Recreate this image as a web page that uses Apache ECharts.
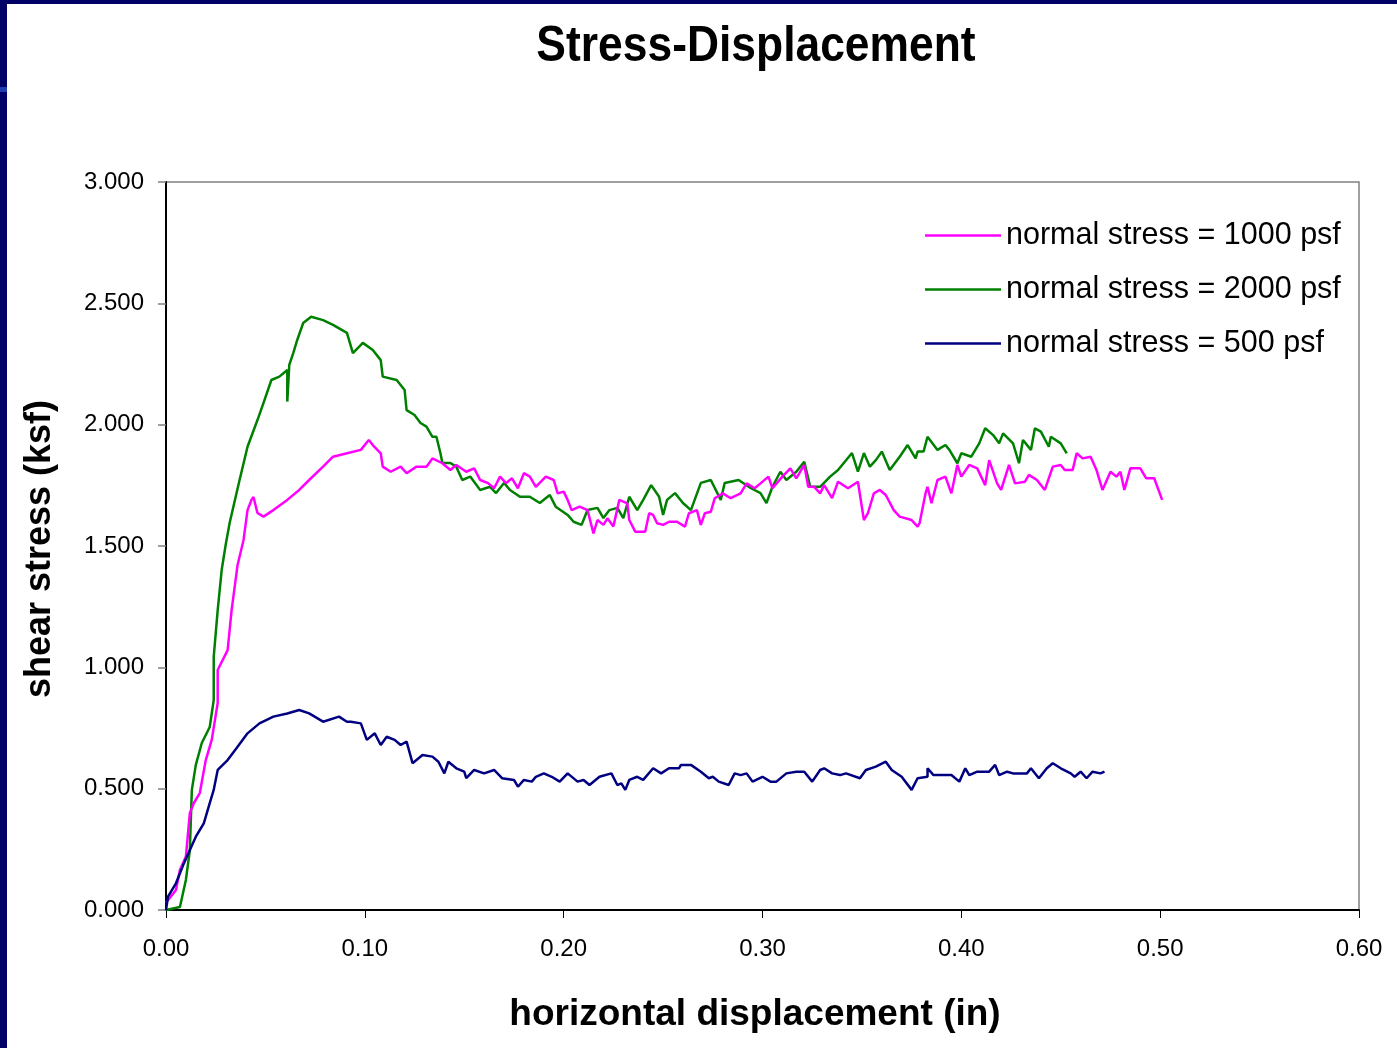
<!DOCTYPE html>
<html>
<head>
<meta charset="utf-8">
<script src="https://cdn.jsdelivr.net/npm/echarts@6/dist/echarts.min.js"></script>
<style>
html,body{margin:0;padding:0;background:#fff;}
#c{width:1397px;height:1048px;}
</style>
</head>
<body>
<div id="c"></div>
<script>
// ---- data (horizontal displacement in, shear stress ksf) ----
var seriesNames = ['normal stress = 1000 psf', 'normal stress = 2000 psf', 'normal stress = 500 psf'];
var xTicks = [0, 0.1, 0.2, 0.3, 0.4, 0.5, 0.6];
var yTicks = [0, 0.5, 1.0, 1.5, 2.0, 2.5, 3.0];

var stress1000 = [
[0,0.030],[0.005,0.082],[0.007,0.165],[0.010,0.220],[0.012,0.400],[0.014,0.441],[0.017,0.482],[0.020,0.618],
[0.023,0.701],[0.026,0.853],[0.026,0.989],[0.031,1.071],[0.033,1.236],[0.036,1.422],[0.039,1.525],[0.041,1.648],
[0.043,1.690],[0.044,1.702],[0.046,1.636],[0.049,1.621],[0.054,1.648],[0.061,1.690],[0.067,1.731],[0.072,1.772],
[0.079,1.827],[0.084,1.868],[0.091,1.882],[0.098,1.896],[0.102,1.937],[0.104,1.916],[0.108,1.882],[0.109,1.827],
[0.113,1.806],[0.118,1.827],[0.121,1.800],[0.126,1.827],[0.131,1.827],[0.134,1.861],[0.139,1.841],[0.143,1.813],
[0.146,1.834],[0.151,1.806],[0.155,1.820],[0.158,1.772],[0.162,1.759],[0.165,1.738],[0.168,1.786],[0.171,1.759],
[0.174,1.779],[0.177,1.738],[0.180,1.800],[0.183,1.786],[0.186,1.744],[0.191,1.786],[0.195,1.772],[0.197,1.717],
[0.200,1.724],[0.202,1.690],[0.204,1.648],[0.208,1.662],[0.212,1.648],[0.215,1.552],[0.217,1.607],[0.220,1.587],
[0.222,1.614],[0.225,1.580],[0.228,1.690],[0.232,1.676],[0.233,1.607],[0.236,1.559],[0.241,1.559],[0.243,1.635],
[0.245,1.628],[0.247,1.594],[0.250,1.587],[0.253,1.600],[0.257,1.600],[0.261,1.580],[0.263,1.635],[0.267,1.648],
[0.269,1.587],[0.271,1.635],[0.274,1.641],[0.276,1.697],[0.280,1.717],[0.284,1.697],[0.289,1.717],[0.292,1.758],
[0.296,1.738],[0.299,1.758],[0.303,1.786],[0.305,1.738],[0.310,1.786],[0.314,1.820],[0.317,1.779],[0.321,1.834],
[0.323,1.744],[0.326,1.744],[0.329,1.717],[0.331,1.751],[0.335,1.697],[0.338,1.765],[0.343,1.738],[0.348,1.765],
[0.351,1.607],[0.353,1.635],[0.356,1.717],[0.359,1.731],[0.362,1.710],[0.366,1.648],[0.369,1.621],[0.375,1.607],
[0.378,1.580],[0.379,1.594],[0.382,1.717],[0.383,1.744],[0.385,1.676],[0.388,1.772],[0.392,1.786],[0.395,1.717],
[0.398,1.834],[0.400,1.786],[0.404,1.834],[0.408,1.820],[0.412,1.751],[0.414,1.854],[0.418,1.758],[0.420,1.731],
[0.424,1.834],[0.427,1.758],[0.432,1.765],[0.434,1.793],[0.438,1.772],[0.442,1.731],[0.446,1.827],[0.450,1.834],
[0.452,1.813],[0.456,1.813],[0.458,1.882],[0.461,1.861],[0.465,1.868],[0.468,1.813],[0.471,1.731],[0.475,1.806],
[0.478,1.786],[0.480,1.806],[0.482,1.731],[0.485,1.820],[0.490,1.820],[0.493,1.779],[0.497,1.779],[0.501,1.690]
];

var stress2000 = [
[0,0],[0.007,0.012],[0.010,0.124],[0.012,0.247],[0.013,0.495],[0.015,0.598],[0.018,0.688],[0.022,0.754],
[0.024,0.865],[0.024,1.043],[0.026,1.236],[0.028,1.401],[0.030,1.504],[0.032,1.595],[0.037,1.772],[0.041,1.909],
[0.046,2.019],[0.049,2.089],[0.053,2.184],[0.057,2.198],[0.061,2.225],[0.061,2.095],[0.062,2.246],[0.064,2.295],
[0.066,2.349],[0.069,2.419],[0.073,2.445],[0.079,2.431],[0.084,2.411],[0.091,2.378],[0.094,2.295],[0.099,2.337],
[0.104,2.308],[0.108,2.266],[0.109,2.198],[0.116,2.184],[0.120,2.143],[0.121,2.060],[0.125,2.040],[0.128,2.007],
[0.131,1.992],[0.134,1.950],[0.136,1.950],[0.138,1.883],[0.139,1.842],[0.143,1.842],[0.146,1.827],[0.149,1.772],
[0.153,1.786],[0.158,1.731],[0.163,1.744],[0.166,1.718],[0.170,1.760],[0.173,1.731],[0.178,1.703],[0.183,1.703],
[0.188,1.677],[0.193,1.710],[0.196,1.662],[0.202,1.628],[0.205,1.600],[0.209,1.587],[0.212,1.648],[0.217,1.657],
[0.220,1.615],[0.223,1.648],[0.227,1.657],[0.230,1.615],[0.233,1.703],[0.237,1.648],[0.240,1.690],[0.244,1.751],
[0.248,1.703],[0.250,1.628],[0.252,1.690],[0.256,1.718],[0.260,1.677],[0.264,1.648],[0.269,1.760],[0.274,1.772],
[0.279,1.690],[0.281,1.760],[0.288,1.772],[0.294,1.739],[0.299,1.718],[0.302,1.677],[0.305,1.744],[0.309,1.806],
[0.312,1.772],[0.317,1.806],[0.321,1.847],[0.324,1.744],[0.329,1.744],[0.334,1.786],[0.338,1.813],[0.345,1.883],
[0.348,1.806],[0.351,1.883],[0.354,1.827],[0.357,1.854],[0.360,1.889],[0.364,1.813],[0.369,1.868],[0.373,1.916],
[0.377,1.861],[0.378,1.889],[0.381,1.889],[0.383,1.950],[0.388,1.896],[0.392,1.916],[0.394,1.896],[0.398,1.841],
[0.400,1.882],[0.405,1.868],[0.409,1.923],[0.412,1.985],[0.416,1.957],[0.419,1.923],[0.421,1.964],[0.426,1.923],
[0.429,1.841],[0.431,1.937],[0.435,1.896],[0.437,1.985],[0.440,1.971],[0.444,1.909],[0.445,1.950],[0.450,1.923],
[0.453,1.882]
];

var stress500 = [
[0,0],[0.001,0.055],[0.005,0.110],[0.009,0.192],[0.012,0.247],[0.015,0.302],[0.019,0.357],[0.022,0.440],
[0.024,0.495],[0.026,0.577],[0.031,0.618],[0.036,0.673],[0.041,0.728],[0.047,0.769],[0.054,0.797],[0.061,0.810],
[0.067,0.824],[0.072,0.810],[0.079,0.776],[0.087,0.797],[0.091,0.776],[0.093,0.776],[0.098,0.769],[0.101,0.701],
[0.105,0.728],[0.108,0.680],[0.111,0.714],[0.115,0.701],[0.118,0.680],[0.121,0.694],[0.124,0.605],[0.129,0.639],
[0.134,0.632],[0.137,0.611],[0.140,0.563],[0.142,0.611],[0.146,0.584],[0.150,0.570],[0.151,0.543],[0.155,0.577],
[0.160,0.563],[0.165,0.577],[0.169,0.543],[0.175,0.536],[0.177,0.508],[0.180,0.536],[0.184,0.529],[0.186,0.549],
[0.190,0.563],[0.194,0.549],[0.198,0.529],[0.202,0.563],[0.207,0.529],[0.210,0.536],[0.213,0.515],[0.218,0.549],
[0.224,0.563],[0.227,0.515],[0.229,0.522],[0.231,0.495],[0.233,0.536],[0.237,0.549],[0.240,0.536],[0.245,0.584],
[0.249,0.563],[0.253,0.584],[0.258,0.584],[0.259,0.598],[0.264,0.598],[0.269,0.570],[0.273,0.543],[0.275,0.549],
[0.278,0.529],[0.283,0.515],[0.286,0.563],[0.289,0.556],[0.292,0.563],[0.295,0.529],[0.300,0.549],[0.304,0.529],
[0.307,0.529],[0.312,0.563],[0.317,0.570],[0.321,0.570],[0.325,0.529],[0.329,0.577],[0.331,0.584],[0.335,0.563],
[0.339,0.556],[0.342,0.563],[0.349,0.543],[0.352,0.577],[0.357,0.591],[0.362,0.611],[0.365,0.577],[0.370,0.549],
[0.375,0.495],[0.378,0.543],[0.383,0.549],[0.383,0.584],[0.386,0.556],[0.395,0.556],[0.399,0.529],[0.402,0.584],
[0.404,0.556],[0.408,0.570],[0.414,0.570],[0.417,0.598],[0.419,0.556],[0.423,0.570],[0.426,0.563],[0.433,0.563],
[0.435,0.584],[0.439,0.543],[0.443,0.584],[0.446,0.605],[0.450,0.584],[0.455,0.563],[0.457,0.549],[0.460,0.570],
[0.463,0.543],[0.466,0.570],[0.470,0.563],[0.472,0.570]
];

var colors = ['#FF00FF', '#008000', '#000080'];
var FONT = '"Liberation Sans", Arial, sans-serif';

var chart = echarts.init(document.getElementById('c'), null, {renderer: 'canvas'});
var seriesData = [stress1000, stress2000, stress500];

var option = {
  backgroundColor: '#ffffff',
  animation: false,
  grid: {left: 166, right: 38, top: 182, bottom: 138, show: true, borderColor: '#808080', borderWidth: 1.5, backgroundColor: 'transparent'},
  xAxis: {
    type: 'value', min: xTicks[0], max: xTicks[xTicks.length - 1], interval: 0.1,
    axisLine: {show: true, onZero: false, lineStyle: {color: '#000', width: 2}},
    axisTick: {show: true, inside: false, length: 8, lineStyle: {color: '#000', width: 1}},
    splitLine: {show: false},
    axisLabel: {color: '#000', fontFamily: FONT, fontSize: 24, margin: 27,
      formatter: function (v) { return v.toFixed(2); }}
  },
  yAxis: {
    type: 'value', min: yTicks[0], max: yTicks[yTicks.length - 1], interval: 0.5,
    axisLine: {show: true, onZero: false, lineStyle: {color: '#000', width: 2}},
    axisTick: {show: true, inside: false, length: 8, lineStyle: {color: '#808080', width: 1.5}},
    splitLine: {show: false},
    axisLabel: {color: '#000', fontFamily: FONT, fontSize: 24, margin: 22,
      formatter: function (v) { return v.toFixed(3); }}
  },
  legend: {
    orient: 'vertical', left: 925, top: 220,
    icon: 'rect', itemWidth: 76, itemHeight: 2.5, itemGap: 23,
    data: seriesNames.map(function (n, i) { return {name: n, itemStyle: {color: colors[i]}}; }),
    textStyle: {fontFamily: FONT, fontSize: 30.5, color: '#000', lineHeight: 31, padding: [0, 0, 0, 0]},
    padding: 0
  },
  graphic: [
    {type: 'rect', shape: {x: 0, y: 0, width: 1397, height: 4}, style: {fill: '#000066'}, z: 100},
    {type: 'rect', shape: {x: 0, y: 0, width: 7, height: 1048}, style: {fill: '#000066'}, z: 100},
    {type: 'rect', shape: {x: 0, y: 87, width: 7, height: 5}, style: {fill: '#1f3fb0'}, z: 101},
    {type: 'text', x: 756, y: 47, scaleX: 0.888, style: {text: 'Stress-Displacement', font: 'bold 50px ' + FONT, fill: '#000', textAlign: 'center', textVerticalAlign: 'middle'}},
    {type: 'text', x: 755, y: 1015, style: {text: 'horizontal displacement (in)', font: 'bold 37px ' + FONT, fill: '#000', textAlign: 'center', textVerticalAlign: 'middle'}},
    {type: 'text', x: 40, y: 549, rotation: Math.PI / 2, style: {text: 'shear stress (ksf)', font: 'bold 36px ' + FONT, fill: '#000', textAlign: 'center', textVerticalAlign: 'middle'}}
  ],
  series: seriesData.map(function (d, i) {
    return {
      name: seriesNames[i], type: 'line', data: d, symbol: 'none', showSymbol: false,
      lineStyle: {color: colors[i], width: 2.5}, itemStyle: {color: colors[i]},
      z: i === 2 ? 3 : (i === 0 ? 2 : 1)
    };
  })
};
chart.setOption(option);
</script>
</body>
</html>
